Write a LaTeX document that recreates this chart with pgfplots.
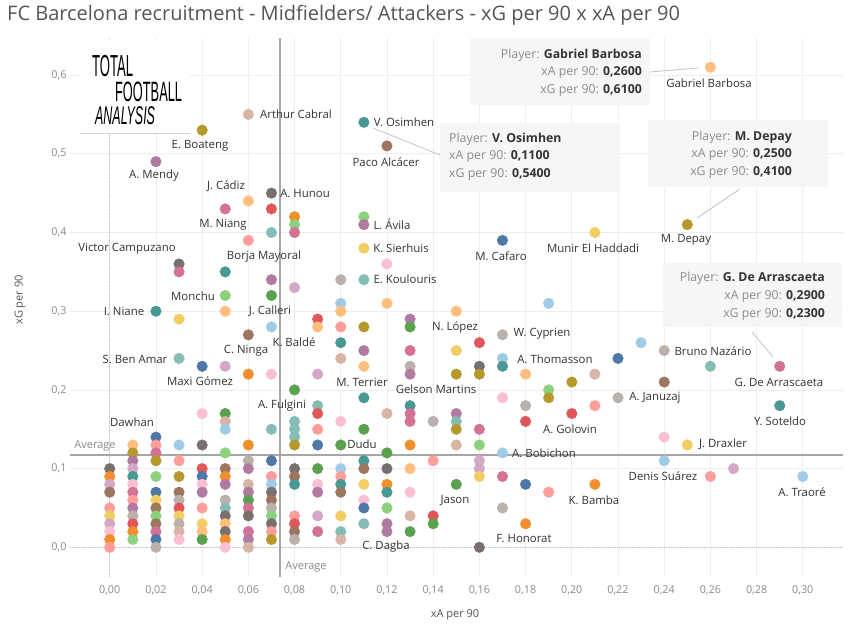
\documentclass[border=0pt]{standalone}
\usepackage{fontspec}
\setmainfont{Open Sans}
\newfontfamily\logofont{Liberation Sans}
\usepackage{pgfplots}
\pgfplotsset{compat=1.18}
\usepackage{pgfplotstable}

\definecolor{tB}{HTML}{4E79A7}
\definecolor{tLB}{HTML}{A0CBE8}
\definecolor{tO}{HTML}{F28E2B}
\definecolor{tLO}{HTML}{FFBE7D}
\definecolor{tG}{HTML}{59A14F}
\definecolor{tLG}{HTML}{8CD17D}
\definecolor{tOL}{HTML}{B6992D}
\definecolor{tY}{HTML}{F1CE63}
\definecolor{tT}{HTML}{499894}
\definecolor{tLT}{HTML}{86BCB6}
\definecolor{tR}{HTML}{E15759}
\definecolor{tLR}{HTML}{FF9D9A}
\definecolor{tGR}{HTML}{79706E}
\definecolor{tLGR}{HTML}{BAB0AC}
\definecolor{tP}{HTML}{D37295}
\definecolor{tLP}{HTML}{FABFD2}
\definecolor{tPU}{HTML}{B07AA1}
\definecolor{tLPU}{HTML}{D4A6C8}
\definecolor{tBR}{HTML}{9D7660}
\definecolor{tLBR}{HTML}{D7B5A6}
\definecolor{gridc}{HTML}{EEEEEE}
\definecolor{avgc}{HTML}{A6A6A6}
\definecolor{tickc}{HTML}{8A8A8A}
\definecolor{labc}{HTML}{333333}
\definecolor{titc}{HTML}{555555}
\definecolor{tipbg}{HTML}{F6F6F6}
\definecolor{tipgray}{HTML}{8C8C8C}
\definecolor{linec}{HTML}{C4C4C4}

\pgfplotstableread{
x y c
0.00 0.10 GR
0.00 0.09 O
0.00 0.08 LPU
0.00 0.07 BR
0.00 0.05 LR
0.00 0.04 Y
0.00 0.03 LPU
0.00 0.02 LP
0.00 0.01 O
0.00 0.00 LR
0.01 0.13 LO
0.01 0.12 OL
0.01 0.11 PU
0.01 0.10 LPU
0.01 0.09 T
0.01 0.08 LP
0.01 0.07 P
0.01 0.06 LR
0.01 0.05 PU
0.01 0.04 LGR
0.01 0.03 R
0.01 0.02 O
0.01 0.01 LG
0.02 0.49 PU
0.02 0.30 T
0.02 0.14 B
0.02 0.13 LR
0.02 0.12 P
0.02 0.11 OL
0.02 0.09 LG
0.02 0.07 B
0.02 0.06 Y
0.02 0.05 BR
0.02 0.04 LG
0.02 0.03 BR
0.02 0.02 P
0.02 0.01 B
0.02 0.00 LGR
0.03 0.36 GR
0.03 0.35 P
0.03 0.29 Y
0.03 0.24 LT
0.03 0.13 LB
0.03 0.11 LR
0.03 0.09 OL
0.03 0.07 BR
0.03 0.06 LGR
0.03 0.05 R
0.03 0.04 Y
0.03 0.03 LGR
0.03 0.02 LBR
0.03 0.01 LP
0.04 0.53 OL
0.04 0.23 B
0.04 0.17 LP
0.04 0.13 GR
0.04 0.10 R
0.04 0.09 B
0.04 0.08 LP
0.04 0.07 PU
0.04 0.05 LR
0.04 0.03 Y
0.04 0.02 LO
0.04 0.01 G
0.05 0.43 P
0.05 0.35 T
0.05 0.32 LG
0.05 0.30 LO
0.05 0.23 LPU
0.05 0.17 G
0.05 0.16 LBR
0.05 0.15 LB
0.05 0.12 LG
0.05 0.10 BR
0.05 0.09 O
0.05 0.08 PU
0.05 0.06 LGR
0.05 0.05 LT
0.05 0.04 GR
0.05 0.03 LO
0.05 0.02 GR
0.05 0.01 O
0.05 0.00 LP
0.06 0.55 LBR
0.06 0.44 LO
0.06 0.39 LR
0.06 0.27 BR
0.06 0.22 O
0.06 0.13 O
0.06 0.11 LGR
0.06 0.10 PU
0.06 0.08 LBR
0.06 0.07 PU
0.06 0.06 G
0.06 0.05 P
0.06 0.04 GR
0.06 0.02 P
0.06 0.01 PU
0.06 0.00 LBR
0.07 0.45 GR
0.07 0.43 R
0.07 0.40 LT
0.07 0.34 PU
0.07 0.32 G
0.07 0.28 LB
0.07 0.22 LP
0.07 0.15 LT
0.07 0.11 B
0.07 0.09 LR
0.07 0.08 LB
0.07 0.07 GR
0.07 0.06 BR
0.07 0.05 LGR
0.07 0.04 LG
0.07 0.03 GR
0.07 0.02 LR
0.07 0.01 OL
0.08 0.42 O
0.08 0.41 LG
0.08 0.40 P
0.08 0.33 LPU
0.08 0.20 G
0.08 0.16 LT
0.08 0.15 LT
0.08 0.14 LT
0.08 0.13 OL
0.08 0.10 GR
0.08 0.09 BR
0.08 0.08 T
0.08 0.04 LR
0.08 0.03 R
0.08 0.02 BR
0.08 0.01 LGR
0.09 0.29 R
0.09 0.28 LO
0.09 0.22 LPU
0.09 0.18 LT
0.09 0.17 R
0.09 0.15 LR
0.09 0.13 B
0.09 0.10 G
0.09 0.08 LP
0.09 0.07 PU
0.09 0.04 LPU
0.09 0.02 P
0.10 0.34 LGR
0.10 0.31 LB
0.10 0.30 LO
0.10 0.28 LR
0.10 0.26 T
0.10 0.24 LBR
0.10 0.16 LP
0.10 0.13 G
0.10 0.10 LB
0.10 0.09 LR
0.10 0.08 T
0.10 0.07 BR
0.10 0.04 Y
0.10 0.02 LT
0.10 0.01 LBR
0.11 0.54 T
0.11 0.42 LG
0.11 0.41 PU
0.11 0.38 Y
0.11 0.34 LT
0.11 0.28 OL
0.11 0.25 PU
0.11 0.23 LO
0.11 0.19 T
0.11 0.15 G
0.11 0.11 T
0.11 0.10 BR
0.11 0.08 Y
0.11 0.06 LP
0.11 0.05 B
0.11 0.03 LT
0.12 0.51 BR
0.12 0.36 LP
0.12 0.31 LO
0.12 0.17 LBR
0.12 0.12 G
0.12 0.10 GR
0.12 0.08 O
0.12 0.07 T
0.12 0.05 LG
0.12 0.03 PU
0.12 0.02 PU
0.13 0.29 PU
0.13 0.28 G
0.13 0.25 P
0.13 0.23 LGR
0.13 0.22 PU
0.13 0.18 T
0.13 0.17 P
0.13 0.16 P
0.13 0.13 O
0.13 0.10 LO
0.13 0.07 LP
0.13 0.04 LBR
0.13 0.02 G
0.14 0.16 LGR
0.14 0.11 LR
0.14 0.04 R
0.14 0.03 G
0.15 0.30 LO
0.15 0.25 Y
0.15 0.22 OL
0.15 0.17 PU
0.15 0.16 LT
0.15 0.15 OL
0.15 0.13 LBR
0.15 0.08 G
0.16 0.26 R
0.16 0.23 GR
0.16 0.22 OL
0.16 0.15 P
0.16 0.13 LG
0.16 0.11 LPU
0.16 0.10 LPU
0.16 0.09 Y
0.16 0.00 GR
0.17 0.39 B
0.17 0.27 LGR
0.17 0.24 LB
0.17 0.23 T
0.17 0.19 LP
0.17 0.12 LB
0.17 0.09 P
0.17 0.05 LGR
0.18 0.22 LO
0.18 0.18 LGR
0.18 0.16 R
0.18 0.08 B
0.18 0.03 O
0.19 0.31 LB
0.19 0.20 LG
0.19 0.19 OL
0.19 0.07 LR
0.20 0.21 OL
0.20 0.17 R
0.21 0.40 Y
0.21 0.22 LBR
0.21 0.18 LR
0.21 0.08 O
0.22 0.24 B
0.22 0.19 LGR
0.23 0.26 LB
0.24 0.25 LGR
0.24 0.21 BR
0.24 0.14 LP
0.24 0.11 LB
0.25 0.41 OL
0.25 0.13 Y
0.26 0.61 LO
0.26 0.23 LT
0.26 0.09 LR
0.27 0.10 LPU
0.29 0.23 P
0.29 0.18 T
0.30 0.09 LB
}\players

\newcommand{\lab}[3]{\node[text=labc,font=\fontsize{11.4}{13}\selectfont,inner sep=0pt] at (#1,#2) {#3};}
\newcommand{\tip}[1]{\textcolor{tipgray}{#1}}

\begin{document}
\begin{tikzpicture}[x=1pt,y=1pt]
\path[fill=white] (0,0) rectangle (858,625);
\begin{axis}[
  at={(70pt,48pt)}, anchor=south west,
  scale only axis, width=773pt, height=539pt,
  xmin=-0.0172, xmax=0.3174, ymin=-0.0377, ymax=0.6471,
  xtick={0,0.02,0.04,0.06,0.08,0.10,0.12,0.14,0.16,0.18,0.20,0.22,0.24,0.26,0.28,0.30},
  ytick={0,0.1,0.2,0.3,0.4,0.5,0.6},
  grid=major, major grid style={draw=gridc, line width=0.7pt},
  axis line style={draw=none}, tick style={draw=none},
  /pgf/number format/assume math mode=true,
  xticklabel style={font=\fontsize{10.8}{13}\selectfont, text=tickc, yshift=-5pt,
    /pgf/number format/.cd, use comma, fixed, fixed zerofill, precision=2},
  yticklabel style={font=\fontsize{10.8}{13}\selectfont, text=tickc,
    /pgf/number format/.cd, use comma, fixed, fixed zerofill, precision=1},
  clip=false,
]
\draw[densely dotted, draw=linec, line width=0.8pt] (axis cs:0,-0.0377) -- (axis cs:0,0.6471);
\draw[densely dotted, draw=linec, line width=0.8pt] (axis cs:-0.0172,0) -- (axis cs:0.3174,0);
\addplot[scatter, only marks, mark=*, mark size=5.3pt,
  point meta=explicit symbolic,
  scatter/classes={
    B={mark=*,tB}, LB={mark=*,tLB}, O={mark=*,tO}, LO={mark=*,tLO},
    G={mark=*,tG}, LG={mark=*,tLG}, OL={mark=*,tOL}, Y={mark=*,tY},
    T={mark=*,tT}, LT={mark=*,tLT}, R={mark=*,tR}, LR={mark=*,tLR},
    GR={mark=*,tGR}, LGR={mark=*,tLGR}, P={mark=*,tP}, LP={mark=*,tLP},
    PU={mark=*,tPU}, LPU={mark=*,tLPU}, BR={mark=*,tBR}, LBR={mark=*,tLBR}}
] table[x=x, y=y, meta=c] {\players};
\draw[draw=avgc, line width=1.8pt] (axis cs:0.0737,-0.0377) -- (axis cs:0.0737,0.6471);
\draw[draw=avgc, line width=1.8pt] (axis cs:-0.0172,0.1173) -- (axis cs:0.3174,0.1173);
\end{axis}

\begin{scope}[y=-1pt, shift={(0pt,625pt)}]
% title and axis titles
\node[anchor=west, text=titc, font=\fontsize{20}{23}\selectfont, inner sep=0pt] at (7,15) {FC Barcelona recruitment - Midfielders/ Attackers - xG per 90 x xA per 90};
\node[text=titc, font=\fontsize{11}{13}\selectfont, inner sep=0pt] at (455,615) {xA per 90};
\node[text=titc, font=\fontsize{11}{13}\selectfont, inner sep=0pt, rotate=90] at (20,300) {xG per 90};
% logo
\fill[white] (80,40) rectangle (190,133);
\draw[gray!35, line width=0.5pt] (80,133) -- (190,133);
\node[font=\logofont\fontsize{16}{16}\selectfont, xscale=0.82, yscale=1.9, inner sep=0pt, anchor=west] at (92,66) {TOTAL};
\node[font=\logofont\fontsize{16}{16}\selectfont, xscale=0.8, yscale=1.75, inner sep=0pt, anchor=west] at (115,92) {FOOTBALL};
\node[font=\logofont\itshape\fontsize{16}{16}\selectfont, xscale=0.78, yscale=1.6, inner sep=0pt, anchor=west] at (95,116) {ANALYSIS};
% average labels
\node[text=tickc, font=\fontsize{11}{13}\selectfont, inner sep=0pt] at (95,446) {Average};
\node[text=tickc, font=\fontsize{11}{13}\selectfont, inner sep=0pt] at (306,567) {Average};
% tooltip lines
\draw[linec, line width=0.8pt] (650,72) -- (698,68);
\draw[linec, line width=0.8pt] (373,128) -- (445,157);
\draw[linec, line width=0.8pt] (740,189) -- (697,218);
\draw[linec, line width=0.8pt] (752,332) -- (773,357);
% tooltip boxes
\fill[tipbg] (470,38) rectangle (650,105);
\fill[tipbg] (440,123) rectangle (620,192);
\fill[tipbg] (648,120) rectangle (828,187);
\fill[tipbg] (663,263) rectangle (842,327);
\begin{scope}[every node/.style={font=\fontsize{12.3}{14}\selectfont, text=labc, inner sep=0pt}]
\node[anchor=east] at (642,55) {\tip{Player: }\textbf{Gabriel Barbosa}};
\node[anchor=east] at (642,73) {\tip{xA per 90: }\textbf{0,2600}};
\node[anchor=east] at (642,91) {\tip{xG per 90: }\textbf{0,6100}};
\node[anchor=west] at (449,139) {\tip{Player: }\textbf{V. Osimhen}};
\node[anchor=west] at (449,157) {\tip{xA per 90: }\textbf{0,1100}};
\node[anchor=west] at (449,175) {\tip{xG per 90: }\textbf{0,5400}};
\node[anchor=east] at (792,137) {\tip{Player: }\textbf{M. Depay}};
\node[anchor=east] at (792,155) {\tip{xA per 90: }\textbf{0,2500}};
\node[anchor=east] at (792,173) {\tip{xG per 90: }\textbf{0,4100}};
\node[anchor=east] at (825,278) {\tip{Player: }\textbf{G. De Arrascaeta}};
\node[anchor=east] at (825,297) {\tip{xA per 90: }\textbf{0,2900}};
\node[anchor=east] at (825,315) {\tip{xG per 90: }\textbf{0,2300}};
\end{scope}
% point labels
\lab{709}{83}{Gabriel Barbosa}
\lab{296}{114}{Arthur Cabral}
\lab{404}{122}{V. Osimhen}
\lab{386}{162}{Paco Alcácer}
\lab{200}{146}{E. Boateng}
\lab{154}{176}{A. Mendy}
\lab{226}{186}{J. Cádiz}
\lab{305}{193}{A. Hunou}
\lab{223}{225}{M. Niang}
\lab{392}{224}{L. Ávila}
\lab{127}{249}{Victor Campuzano}
\lab{401}{248}{K. Sierhuis}
\lab{264}{257}{Borja Mayoral}
\lab{593}{248}{Munir El Haddadi}
\lab{501}{256}{M. Cafaro}
\lab{686}{240}{M. Depay}
\lab{405}{279}{E. Koulouris}
\lab{193}{296}{Monchu}
\lab{124}{311}{I. Niane}
\lab{270}{311}{J. Calleri}
\lab{455}{327}{N. López}
\lab{542}{334}{W. Cyprien}
\lab{294}{342}{K. Baldé}
\lab{246}{351}{C. Ninga}
\lab{135}{359}{S. Ben Amar}
\lab{555}{359}{A. Thomasson}
\lab{713}{351}{Bruno Nazário}
\lab{200}{381}{Maxi Gómez}
\lab{362}{382}{M. Terrier}
\lab{436}{389}{Gelson Martins}
\lab{779}{382}{G. De Arrascaeta}
\lab{655}{398}{A. Januzaj}
\lab{282}{406}{A. Fulgini}
\lab{780}{421}{Y. Soteldo}
\lab{132}{422}{Dawhan}
\lab{570}{429}{A. Golovin}
\lab{723}{444}{J. Draxler}
\lab{362}{444}{Dudu}
\lab{544}{453}{A. Bobichon}
\lab{663}{476}{Denis Suárez}
\lab{802}{492}{A. Traoré}
\lab{455}{500}{Jason}
\lab{594}{500}{K. Bamba}
\lab{524}{539}{F. Honorat}
\lab{386}{547}{C. Dagba}
\end{scope}
\end{tikzpicture}
\end{document}
